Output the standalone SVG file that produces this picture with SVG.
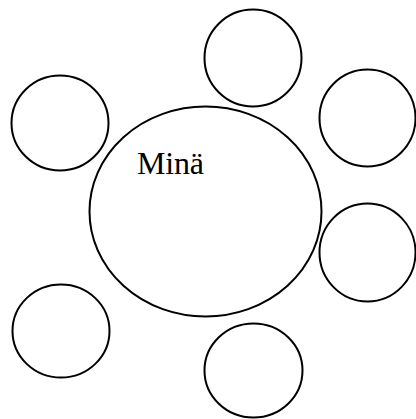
<svg xmlns="http://www.w3.org/2000/svg" width="416" height="419" viewBox="0 0 416 419">
<style>
.c{fill:none;stroke:#000;stroke-width:2}
.t{font-family:"Liberation Serif","Times New Roman",serif;font-size:32px;fill:#000}
</style>
<rect width="416" height="419" fill="#fff"/>
<g id="mina"><ellipse class="c" cx="205.5" cy="211.5" rx="116" ry="105"/><text class="t" x="137" y="174" textLength="67">Minä</text></g>
<g id="top"><ellipse class="c" cx="253" cy="58" rx="48.5" ry="48.5"/></g>
<g id="topright"><ellipse class="c" cx="367.5" cy="118" rx="48" ry="48.5"/></g>
<g id="left"><ellipse class="c" cx="60" cy="123" rx="48.5" ry="47.5"/></g>
<g id="right"><ellipse class="c" cx="367.5" cy="252.5" rx="48" ry="49"/></g>
<g id="bottomleft"><ellipse class="c" cx="61" cy="331" rx="48.5" ry="46.5"/></g>
<g id="bottom"><ellipse class="c" cx="253.5" cy="370.5" rx="49" ry="47"/></g>
<g id="connectors"/>
</svg>
